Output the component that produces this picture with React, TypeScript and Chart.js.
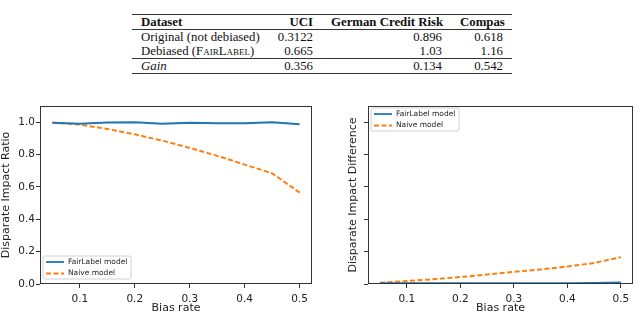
import React, { useEffect, useRef } from 'react';
import { Chart, registerables } from 'chart.js';

Chart.register(...registerables);

// ---- table data ----
const tableHeaders = ['Dataset', 'UCI', 'German Credit Risk', 'Compas'];
const originalLabel = 'Original (not debiased)';
const originalRow = ['0.3122', '0.896', '0.618'];
const debiasedRow = ['0.665', '1.03', '1.16'];
const gainLabel = 'Gain';
const gainRow = ['0.356', '0.134', '0.542'];

// ---- chart data ----
const biasRates = [0.05, 0.1, 0.15, 0.2, 0.25, 0.3, 0.35, 0.4, 0.45, 0.5];
const ratioFairLabel = [0.996, 0.99, 0.998, 1.0, 0.991, 0.997, 0.993, 0.994, 0.999, 0.987];
const ratioNaive = [0.998, 0.985, 0.958, 0.925, 0.886, 0.841, 0.792, 0.738, 0.684, 0.565];
const diffFairLabel = [0.004, 0.005, 0.005, 0.004, 0.004, 0.005, 0.004, 0.005, 0.006, 0.009];
const diffNaive = [0.007, 0.018, 0.03, 0.043, 0.058, 0.075, 0.09, 0.108, 0.13, 0.166];
const seriesLabels = ['FairLabel model', 'Naive model'];
const xTicks = [0.1, 0.2, 0.3, 0.4, 0.5];
const yTicks = [0, 0.2, 0.4, 0.6, 0.8, 1.0];
const xTitle = 'Bias rate';
const leftYTitle = 'Disparate Impact Ratio';
const rightYTitle = 'Disparate Impact Difference';

const BLUE = '#1f77b4';
const ORANGE = '#ff7f0e';
const FONT = "'DejaVu Sans', sans-serif";

const framePlugin = {
  id: 'frame',
  afterDraw(chart: any) {
    const { ctx, chartArea: a } = chart;
    ctx.save();
    ctx.strokeStyle = '#333';
    ctx.lineWidth = 1;
    ctx.strokeRect(Math.round(a.left) + 0.5, Math.round(a.top) + 0.5, Math.round(a.width) - 1, Math.round(a.height) - 1);
    ctx.restore();
  },
};

const boxLegendPlugin = {
  id: 'boxLegend',
  afterDraw(chart: any, _args: any, opts: any) {
    const { ctx, chartArea: a } = chart;
    const w = 88;
    const h = 23;
    const x = a.left + 3;
    const y = opts.position === 'upper' ? a.top + 2 : a.bottom - 5 - h;
    ctx.save();
    ctx.fillStyle = 'rgba(255,255,255,0.85)';
    ctx.strokeStyle = '#d0d0d0';
    ctx.lineWidth = 1;
    const r = 2;
    ctx.beginPath();
    ctx.moveTo(x + r, y);
    ctx.lineTo(x + w - r, y);
    ctx.quadraticCurveTo(x + w, y, x + w, y + r);
    ctx.lineTo(x + w, y + h - r);
    ctx.quadraticCurveTo(x + w, y + h, x + w - r, y + h);
    ctx.lineTo(x + r, y + h);
    ctx.quadraticCurveTo(x, y + h, x, y + h - r);
    ctx.lineTo(x, y + r);
    ctx.quadraticCurveTo(x, y, x + r, y);
    ctx.closePath();
    ctx.fill();
    ctx.stroke();
    chart.data.datasets.forEach((ds: any, i: number) => {
      const cy = y + 6 + i * 11.5;
      ctx.beginPath();
      ctx.strokeStyle = ds.borderColor;
      ctx.lineWidth = 1.8;
      ctx.setLineDash(ds.borderDash || []);
      ctx.moveTo(x + 3, cy);
      ctx.lineTo(x + 21, cy);
      ctx.stroke();
      ctx.setLineDash([]);
      ctx.fillStyle = '#222';
      ctx.font = `7.5px ${FONT}`;
      ctx.textBaseline = 'middle';
      ctx.textAlign = 'left';
      ctx.fillText(ds.label, x + 25, cy);
    });
    ctx.restore();
  },
};

function makeConfig(
  fair: number[],
  naive: number[],
  yTitle: string,
  showYLabels: boolean,
  legendPos: string,
  yAxisWidth: number,
  padLeft: number,
  padRight: number
): any {
  return {
    type: 'line',
    data: {
      labels: biasRates,
      datasets: [
        {
          label: seriesLabels[0],
          data: biasRates.map((x, i) => ({ x, y: fair[i] })),
          borderColor: BLUE,
          borderWidth: 2,
          pointRadius: 0,
          tension: 0,
          fill: false,
        },
        {
          label: seriesLabels[1],
          data: biasRates.map((x, i) => ({ x, y: naive[i] })),
          borderColor: ORANGE,
          borderWidth: 2,
          borderDash: [5, 2.5],
          pointRadius: 0,
          tension: 0,
          fill: false,
        },
      ],
    },
    options: {
      animation: false,
      responsive: false,
      layout: { padding: { top: 11, right: padRight, left: padLeft, bottom: 0 } },
      plugins: {
        legend: { display: false },
        tooltip: { enabled: false },
        boxLegend: { position: legendPos },
      },
      scales: {
        x: {
          type: 'linear',
          min: 0.0275,
          max: 0.5225,
          afterBuildTicks: (s: any) => {
            s.ticks = xTicks.map((v) => ({ value: v }));
          },
          afterFit: (s: any) => {
            s.height = 31;
          },
          ticks: {
            callback: (v: any) => Number(v).toFixed(1),
            font: { family: FONT, size: 10.5 },
            color: '#222',
            padding: 4.5,
            maxRotation: 0,
            autoSkip: false,
          },
          grid: { display: true, drawOnChartArea: false, drawTicks: true, tickLength: 4, color: '#333' },
          border: { display: false },
          title: {
            display: true,
            text: xTitle,
            font: { family: FONT, size: 11 },
            color: '#222',
            padding: 0,
          },
        },
        y: {
          type: 'linear',
          min: 0,
          max: 1.1,
          afterBuildTicks: (s: any) => {
            s.ticks = yTicks.map((v) => ({ value: v }));
          },
          afterFit: (s: any) => {
            s.width = yAxisWidth;
          },
          ticks: {
            callback: (v: any) => (showYLabels ? Number(v).toFixed(1) : ''),
            font: { family: FONT, size: 10.5 },
            color: '#222',
            padding: 1,
          },
          grid: { display: true, drawOnChartArea: false, drawTicks: true, tickLength: 4, color: '#333' },
          border: { display: false },
          title: {
            display: true,
            text: yTitle,
            font: { family: FONT, size: 11 },
            color: '#222',
            padding: 0,
          },
        },
      },
    },
    plugins: [framePlugin, boxLegendPlugin],
  };
}

function ChartCanvas({ config, left }: { config: any; left: number }) {
  const ref = useRef<HTMLCanvasElement | null>(null);
  useEffect(() => {
    if (!ref.current) return;
    const chart = new Chart(ref.current, config);
    return () => chart.destroy();
  }, [config]);
  return (
    <canvas
      ref={ref}
      width={320}
      height={220}
      style={{ position: 'absolute', left, top: 95, width: 320, height: 220 }}
    />
  );
}

const leftConfig = makeConfig(ratioFairLabel, ratioNaive, leftYTitle, true, 'lower', 40, 0, 8);
const rightConfig = makeConfig(diffFairLabel, diffNaive, rightYTitle, false, 'upper', 21, 27, 7);

const cellBase: React.CSSProperties = { padding: '0 9px', whiteSpace: 'nowrap' };

export default function App() {
  const serif = "'Liberation Serif', 'Times New Roman', serif";
  return (
    <div style={{ position: 'absolute', left: 0, top: 0, width: 640, height: 315, background: '#fff', overflow: 'hidden' }}>
      <table
        style={{
          position: 'absolute',
          left: 132,
          top: 14,
          width: 380,
          borderCollapse: 'collapse',
          tableLayout: 'fixed',
          fontFamily: serif,
          fontSize: 12.8,
          lineHeight: '14px',
          color: '#111',
        }}
      >
        <colgroup>
          <col style={{ width: 134 }} />
          <col style={{ width: 56 }} />
          <col style={{ width: 129 }} />
          <col style={{ width: 61 }} />
        </colgroup>
        <tbody>
          <tr style={{ borderTop: '1.2px solid #333', borderBottom: '1px solid #333', height: 15 }}>
            {tableHeaders.map((h, i) => (
              <td key={h} style={{ ...cellBase, fontWeight: 'bold', textAlign: i === 0 ? 'left' : 'right' }}>
                {h}
              </td>
            ))}
          </tr>
          <tr style={{ height: 14 }}>
            <td style={{ ...cellBase, textAlign: 'left' }}>{originalLabel}</td>
            {originalRow.map((v, i) => (
              <td key={i} style={{ ...cellBase, textAlign: 'right' }}>{v}</td>
            ))}
          </tr>
          <tr style={{ height: 14, borderBottom: '1px solid #333' }}>
            <td style={{ ...cellBase, textAlign: 'left' }}>
              Debiased (<span style={{ fontVariant: 'small-caps' }}>FairLabel</span>)
            </td>
            {debiasedRow.map((v, i) => (
              <td key={i} style={{ ...cellBase, textAlign: 'right' }}>{v}</td>
            ))}
          </tr>
          <tr style={{ height: 15, borderBottom: '1.2px solid #333' }}>
            <td style={{ ...cellBase, textAlign: 'left', fontStyle: 'italic' }}>{gainLabel}</td>
            {gainRow.map((v, i) => (
              <td key={i} style={{ ...cellBase, textAlign: 'right' }}>{v}</td>
            ))}
          </tr>
        </tbody>
      </table>
      <ChartCanvas config={leftConfig} left={0} />
      <ChartCanvas config={rightConfig} left={320} />
    </div>
  );
}
